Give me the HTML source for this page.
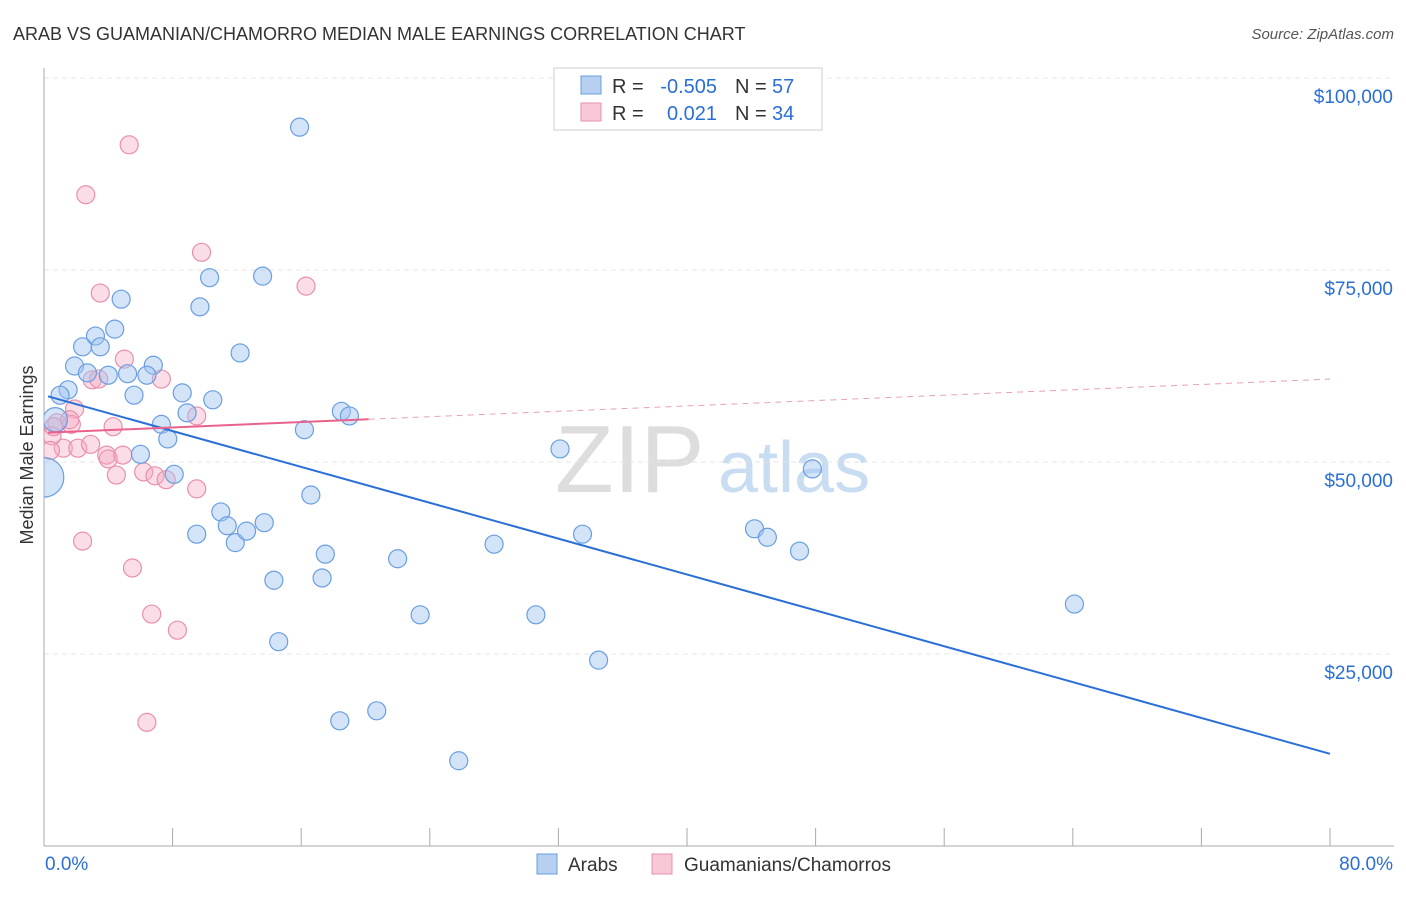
<!DOCTYPE html>
<html><head><meta charset="utf-8"><style>
body{margin:0;background:#fff;font-family:"Liberation Sans",sans-serif}
svg text{font-family:"Liberation Sans",sans-serif}
</style></head><body>
<svg id="c" width="1406" height="892">
<defs><clipPath id="plotclip"><rect x="44" y="60" width="1360" height="786"/></clipPath></defs>
<text x="13" y="40" font-size="18" fill="#333">ARAB VS GUAMANIAN/CHAMORRO MEDIAN MALE EARNINGS CORRELATION CHART</text>
<text x="1394" y="39" font-size="15" fill="#555" text-anchor="end" font-style="italic">Source: ZipAtlas.com</text>
<text x="33" y="455" font-size="18" fill="#333" text-anchor="middle" transform="rotate(-90 33 455)">Median Male Earnings</text>
<text x="555" y="492" font-size="96" fill="#ddd" font-family="Liberation Serif">ZIP</text>
<text x="718" y="492" font-size="72" fill="#c8dcf2">atlas</text>
<g id="grid"></g><g id="axes"></g><g id="pts" clip-path="url(#plotclip)"></g><g id="lines"></g>
<g>
<rect x="554" y="68" width="268" height="62" fill="#fff" stroke="#ccc"/>
<rect x="581" y="76" width="20" height="18" fill="#b7d0f2" stroke="#6a9ee0"/>
<rect x="581" y="103" width="20" height="18" fill="#f8c8d6" stroke="#e890ac"/>
<text x="612" y="93" font-size="20" fill="#333">R =</text>
<text x="717" y="93" font-size="20" fill="#2a6fd6" text-anchor="end">-0.505</text>
<text x="735" y="93" font-size="20" fill="#333">N =</text>
<text x="772" y="93" font-size="20" fill="#2a6fd6">57</text>
<text x="612" y="120" font-size="20" fill="#333">R =</text>
<text x="717" y="120" font-size="20" fill="#2a6fd6" text-anchor="end">0.021</text>
<text x="735" y="120" font-size="20" fill="#333">N =</text>
<text x="772" y="120" font-size="20" fill="#2a6fd6">34</text>
</g>
<g>
<rect x="537" y="854" width="20" height="20" fill="#b7d0f2" stroke="#6a9ee0"/>
<text x="568" y="871" font-size="19" fill="#333">Arabs</text>
<rect x="652" y="854" width="20" height="20" fill="#f8c8d6" stroke="#e890ac"/>
<text x="684" y="871" font-size="19" fill="#333">Guamanians/Chamorros</text>
</g>
</svg>
<script>
const xTicks=[0,8,16,24,32,40,48,56,64,72,80];
const yTicks=[25000,50000,75000,100000];
const yTickLabels=["$25,000","$50,000","$75,000","$100,000"];
const arabX=[15.9,10.3,13.6,4.8,9.7,4.4,3.2,2.4,3.5,12.2,1.9,6.8,2.7,4.0,5.2,6.4,1.5,1.0,5.6,8.6,10.5,8.9,18.5,19.0,7.3,7.7,16.2,6.0,8.1,32.1,47.8,16.6,11.0,11.4,13.7,9.5,11.9,12.6,17.5,22.0,28.0,33.5,44.2,45.0,47.0,14.3,17.3,23.4,30.6,64.1,14.6,34.5,18.4,20.7,25.8,0,0.7];
const arabY=[93.6,74.0,74.2,71.2,70.2,67.3,66.4,65.0,65.0,64.2,62.5,62.6,61.6,61.3,61.5,61.3,59.4,58.7,58.7,59.0,58.1,56.4,56.6,56.0,54.9,53.0,54.2,51.0,48.4,51.7,49.1,45.7,43.5,41.7,42.1,40.6,39.5,41.0,38.0,37.4,39.3,40.6,41.3,40.2,38.4,34.6,34.9,30.1,30.1,31.5,26.6,24.2,16.3,17.6,11.1,48.0,55.5];
const arabSize=[1,1,1,1,1,1,1,1,1,1,1,1,1,1,1,1,1,1,1,1,1,1,1,1,1,1,1,1,1,1,1,1,1,1,1,1,1,1,1,1,1,1,1,1,1,1,1,1,1,1,1,1,1,1,1,2.2,1.35];
const guamX=[5.3,2.6,9.8,3.5,16.3,5.0,3.0,3.4,7.3,1.9,9.5,4.3,1.7,0.8,1.2,2.1,2.9,3.9,4.0,4.9,6.2,6.9,7.6,4.5,9.5,2.4,5.5,6.7,8.3,6.4,0.5,0.6,1.6,0.4];
const guamY=[91.3,84.8,77.3,72.0,72.9,63.4,60.7,60.8,60.8,56.9,56.0,54.6,54.9,55.1,51.8,51.8,52.3,50.9,50.4,50.9,48.7,48.2,47.7,48.3,46.5,39.7,36.2,30.2,28.1,16.1,53.4,54.6,55.5,51.5];
const arabTrend=[58.7,12.0];
const guamTrend=[53.8,60.8];
const guamSolidEnd=20.2;
const X=v=>44+v*1286/80, Y=v=>846-v*192/25;
const NS="http://www.w3.org/2000/svg";
function mk(t,a,p){const e=document.createElementNS(NS,t);for(const k in a)e.setAttribute(k,a[k]);p.appendChild(e);return e;}
const grid=document.getElementById('grid'),axes=document.getElementById('axes'),pts=document.getElementById('pts'),lines=document.getElementById('lines');
yTicks.forEach((t,i)=>{const l=mk('line',{x1:44,x2:1394,y1:Y(t/1000),y2:Y(t/1000),stroke:'#e4e4e4','stroke-dasharray':'5,4'},grid);


const tx=mk('text',{x:1393,y:Y(t/1000)+25,'font-size':19,fill:'#2a6fd6','text-anchor':'end'},axes);tx.textContent=yTickLabels[i];

});
const tl=mk('line',{x1:44,x2:1394,y1:78,y2:78,stroke:'#e4e4e4','stroke-dasharray':'5,4'},grid);


const ya=mk('line',{x1:44,x2:44,y1:68,y2:846,stroke:'#aaa'},axes);


const xa=mk('line',{x1:44,x2:1394,y1:846,y2:846,stroke:'#aaa'},axes);


xTicks.forEach(t=>{const l=mk('line',{x1:X(t),x2:X(t),y1:828,y2:846,stroke:'#aaa'},axes);

});
[[0,'0.0%','start'],[80,'80.0%','end']].forEach(([v,s,a])=>{const t=mk('text',{x:v==0?45:1393,y:870,'font-size':19,fill:'#2a6fd6','text-anchor':a},axes);t.textContent=s;

});
guamX.forEach((x,i)=>{const c=mk('circle',{cx:X(x),cy:Y(guamY[i]),r:9,fill:'rgba(245,170,195,0.4)',stroke:'#e890ac','stroke-width':1.2},pts);

});
arabX.forEach((x,i)=>{const c=mk('circle',{cx:X(x),cy:Y(arabY[i]),r:9*arabSize[i],fill:'rgba(160,196,240,0.45)',stroke:'#6a9ee0','stroke-width':1.2},pts);

});
const bl=mk('line',{x1:X(0.25),y1:Y(arabTrend[0]+(arabTrend[1]-arabTrend[0])*0.25/80),x2:X(80),y2:Y(arabTrend[1]),stroke:'#2a6fd6','stroke-width':2},lines);


const gy=x=>guamTrend[0]+(guamTrend[1]-guamTrend[0])*x/80;
const ps=mk('line',{x1:X(0.25),y1:Y(gy(0.25)),x2:X(guamSolidEnd),y2:Y(gy(guamSolidEnd)),stroke:'#e8628c','stroke-width':2},lines);


const pd=mk('line',{x1:X(guamSolidEnd),y1:Y(gy(guamSolidEnd)),x2:X(80),y2:Y(gy(80)),stroke:'#e8a0b8','stroke-width':1,'stroke-dasharray':'6,5'},lines);


</script>
</body></html>
